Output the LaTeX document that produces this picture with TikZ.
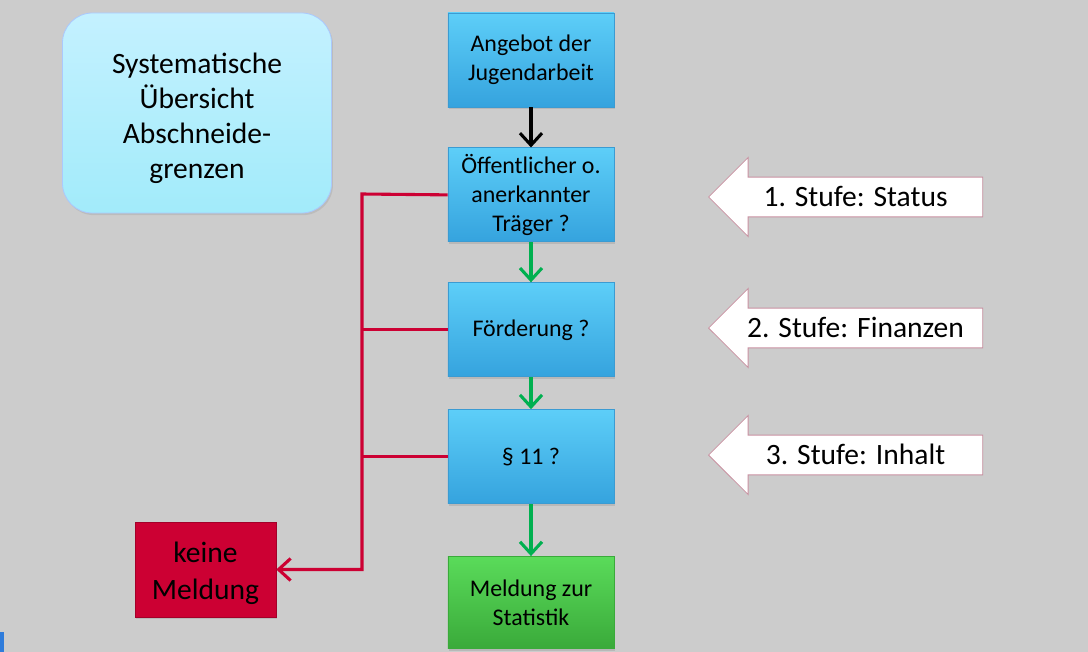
\documentclass[tikz,border=0pt]{standalone}
\usepackage{fontspec}
\setmainfont{Carlito}
\usetikzlibrary{positioning,arrows.meta,shapes.arrows,shadows}
\definecolor{grau}{HTML}{CCCCCC}
\definecolor{blauoben}{HTML}{5DCEF8}
\definecolor{blauunten}{HTML}{35A3DE}
\definecolor{blaurand}{HTML}{3B9BD2}
\definecolor{gruenoben}{HTML}{5ADB5A}
\definecolor{gruenunten}{HTML}{3AAA3A}
\definecolor{rot}{HTML}{CC0033}
\definecolor{pfeilgruen}{HTML}{00B050}
\definecolor{tuerkisoben}{HTML}{C4F1FF}
\definecolor{tuerkisunten}{HTML}{A2EBFA}
\definecolor{rosarand}{HTML}{C890A0}
\begin{document}
\begin{tikzpicture}[x=0.025cm, y=-0.025cm,
  node distance={10mm},
  box/.style = {draw=blaurand, line width=0.6pt, top color=blauoben, bottom color=blauunten,
    minimum width=4.15cm, minimum height=2.35cm, align=center, font=\fontsize{17}{20.5}\selectfont,
    drop shadow={opacity=0.25, shadow xshift=1pt, shadow yshift=-1.5pt}},
  stufe/.style = {single arrow, shape border rotate=180, draw=rosarand, line width=0.6pt, fill=white,
    text height=16pt, text depth=3pt, inner ysep=4.35pt, single arrow head extend=0.49cm,
    minimum height=6.85cm, font=\fontsize{21}{24}\selectfont},
  ja/.style = {draw=pfeilgruen, line width=2.2pt, -{Straight Barb[length=3mm, width=5.5mm]}},
  nein/.style = {draw=rot, line width=2.2pt}]
\useasboundingbox[fill=grau] (0,0) rectangle (1088,652);
\fill[blaurand!80!blue] (0,632) rectangle (4,652);

% Titel
\node[draw=tuerkisunten!70!blue!60, line width=0.6pt, rounded corners=0.75cm,
  top color=tuerkisoben, bottom color=tuerkisunten, minimum width=6.725cm, minimum height=5cm,
  align=center, font=\fontsize{21}{25}\selectfont,
  drop shadow={opacity=0.2, shadow xshift=1pt, shadow yshift=-1.5pt}]
  (titel) at (197,113) {\rule{0pt}{22pt}Systematische\\Übersicht\\Abschneide-\\grenzen};

% Ablauf
\node[box] (angebot) at (531,60) {Angebot der\\Jugendarbeit};
\node[box] (traeger) [below=1cm of angebot] {Öffentlicher o.\\anerkannter\\Träger ?};
\node[box] (foerderung) [below=1cm of traeger] {Förderung ?};
\node[box] (para) [below=0.8cm of foerderung] {§ 11 ?};
\node[box, draw=gruenunten, top color=gruenoben, bottom color=gruenunten, minimum height=2.3cm]
  (meldung) [below=1.3cm of para] {Meldung zur\\Statistik};
\node[draw=rot!80!black, fill=rot, minimum width=3.525cm, minimum height=2.375cm, align=center,
  font=\fontsize{21}{26}\selectfont, drop shadow={opacity=0.25, shadow xshift=1pt, shadow yshift=-1.5pt}]
  (keine) at (205.5,569.5) {\rule{0pt}{20pt}keine\\Meldung};

\draw[line width=2.2pt, -{Straight Barb[length=3mm, width=5.5mm]}] (angebot) -- (traeger);
\draw[ja] (traeger) -- (foerderung);
\draw[ja] (foerderung) -- (para);
\draw[ja] (para) -- (meldung);

% Nein-Zweig
\coordinate (bus) at (362,194);
\draw[nein, -{Straight Barb[length=3mm, width=5.5mm]}] (traeger.west) -- (bus) |- (keine.east);
\draw[nein] (foerderung.west) -- (foerderung.west -| bus);
\draw[nein] (para.west) -- (para.west -| bus);

% Stufen
\node[stufe, anchor=tip] (status) at (708,197) {1. Stufe: Status};
\node[stufe, anchor=tip] (finanzen) at (708,328) {2. Stufe: Finanzen};
\node[stufe, anchor=tip] (inhalt) at (708,455) {3. Stufe: Inhalt};
\end{tikzpicture}
\end{document}
